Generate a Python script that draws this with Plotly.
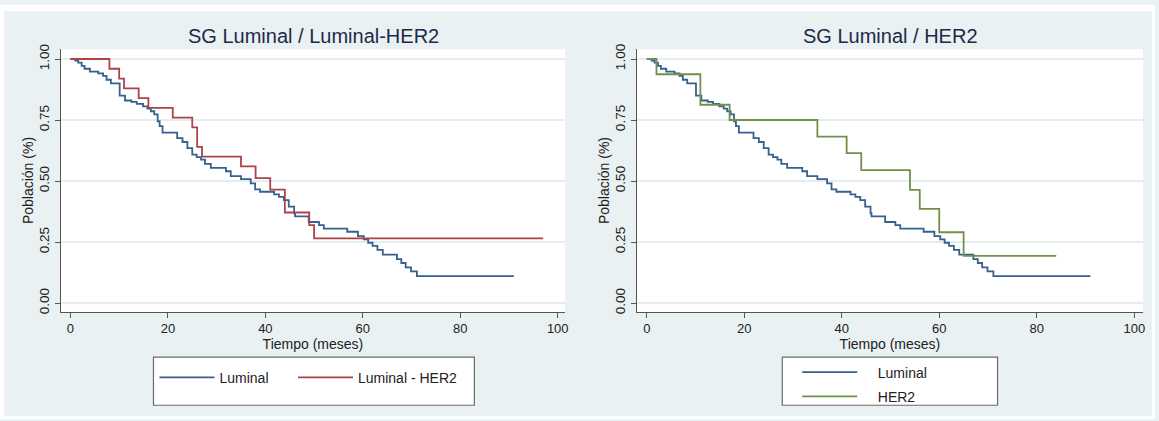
import plotly.graph_objects as go

W, H = 1159, 421

# ---- data ----
lum_t = [0, 1.0, 1.6, 2.3, 2.9, 4.0, 5.7, 6.7, 7.4, 8.3,
         10.1, 11.2, 12.5, 13.6, 14.9, 15.8, 16.5, 17.2, 17.9, 18.3,
         18.9, 21.9, 23.0, 24.0, 25.0, 25.9, 26.8, 27.6, 28.8, 31.9,
         32.9, 35.0, 37.0, 37.9, 38.9, 41.8, 42.8, 43.8, 44.8, 45.9,
         46.1, 48.9, 51.0, 52.0, 56.8, 59.0, 60.2, 61.1, 62.0, 63.0,
         64.1, 67.0, 67.9, 68.8, 69.9, 71.1, 91.0]
lum_s = [1.0, 0.993, 0.985, 0.972, 0.96, 0.948, 0.941, 0.931, 0.915, 0.90,
         0.85, 0.83, 0.824, 0.816, 0.806, 0.797, 0.786, 0.773, 0.745, 0.725,
         0.698, 0.676, 0.66, 0.635, 0.608, 0.598, 0.588, 0.570, 0.554, 0.540,
         0.520, 0.508, 0.49, 0.466, 0.456, 0.445, 0.435, 0.422, 0.395, 0.368,
         0.355, 0.332, 0.319, 0.305, 0.292, 0.274, 0.261, 0.247, 0.234, 0.218,
         0.198, 0.180, 0.164, 0.146, 0.130, 0.110, 0.110]

lumher2_t = [0, 8, 10, 11, 14, 16, 21, 25, 26, 27, 35, 38, 41, 44, 49, 50, 97]
lumher2_s = [1.0, 0.96, 0.92, 0.88, 0.84, 0.80, 0.76, 0.72, 0.64, 0.60,
             0.56, 0.512, 0.465, 0.371, 0.319, 0.265, 0.265]

her2_t = [0, 2, 11, 17, 35, 41, 44, 54, 56, 60, 65, 84]
her2_s = [1.0, 0.9375, 0.8125, 0.75, 0.682, 0.614, 0.545, 0.464, 0.386, 0.29, 0.193, 0.193]

x_ticks = [0, 20, 40, 60, 80, 100]
y_ticks = [0, 0.25, 0.5, 0.75, 1.0]
y_ticklabels = ["0.00", "0.25", "0.50", "0.75", "1.00"]

titles = ["SG Luminal / Luminal-HER2", "SG Luminal / HER2"]
names_left = ["Luminal", "Luminal - HER2"]
names_right = ["Luminal", "HER2"]
x_title = "Tiempo (meses)"
y_title = "Población (%)"

# ---- style ----
BLUE = "#36608e"
RED = "#ad4249"
GREEN = "#71904a"
BG = "#e9f1f2"
AX = "#555555"
TXT = "#222222"
FONT = "Liberation Sans, Arial, Helvetica, sans-serif"

def fx(p):
    return p / W

def fy(p):
    return 1 - p / H

fig = go.Figure()

fig.add_trace(go.Scatter(x=lum_t, y=lum_s, mode="lines", name=names_left[0],
                         line=dict(shape="hv", color=BLUE, width=1.8),
                         xaxis="x", yaxis="y", legend="legend"))
fig.add_trace(go.Scatter(x=lumher2_t, y=lumher2_s, mode="lines", name=names_left[1],
                         line=dict(shape="hv", color=RED, width=1.8),
                         xaxis="x", yaxis="y", legend="legend3"))
fig.add_trace(go.Scatter(x=lum_t, y=lum_s, mode="lines", name="\u00a0\u00a0\u00a0\u00a0" + names_right[0],
                         line=dict(shape="hv", color=BLUE, width=1.8), legendgroup="a",
                         xaxis="x2", yaxis="y2", legend="legend2"))
fig.add_trace(go.Scatter(x=her2_t, y=her2_s, mode="lines", name="\u00a0\u00a0\u00a0\u00a0" + names_right[1],
                         line=dict(shape="hv", color=GREEN, width=1.8), legendgroup="b",
                         xaxis="x2", yaxis="y2", legend="legend2"))

xcommon = dict(tickvals=x_ticks, ticks="outside", ticklen=5, tickcolor=AX,
               showline=True, linecolor=AX, linewidth=1, showgrid=False, zeroline=False,
               tickfont=dict(size=13, color=TXT),
               title=dict(text=x_title, font=dict(size=14, color=TXT), standoff=2))
ycommon = dict(tickvals=y_ticks, ticktext=y_ticklabels, tickangle=-90,
               ticks="outside", ticklen=5, tickcolor=AX,
               showline=True, linecolor=AX, linewidth=1,
               showgrid=True, gridcolor="#e4eef0", gridwidth=1.5, zeroline=False,
               tickfont=dict(size=13.5, color=TXT), range=[-0.036, 1.040],
               domain=[fy(312), fy(45)],
               title=dict(text=y_title, font=dict(size=14, color=TXT), standoff=0))

leg_common = dict(font=dict(size=14, color=TXT), bgcolor="rgba(0,0,0,0)", borderwidth=0,
                  itemwidth=55, yanchor="middle", xanchor="left")

fig.update_layout(
    width=W, height=H,
    margin=dict(l=0, r=0, t=0, b=0),
    paper_bgcolor=BG, plot_bgcolor="white",
    font=dict(family=FONT, color=TXT),
    xaxis=dict(domain=[fx(61), fx(567)], range=[-1.98, 101.5], anchor="y", **xcommon),
    yaxis=dict(anchor="x", **ycommon),
    xaxis2=dict(domain=[fx(639), fx(1147)], range=[-2.04, 101.8], anchor="y2", **xcommon),
    yaxis2=dict(anchor="x2", **ycommon),
    legend=dict(orientation="h", x=fx(155), y=fy(379), **leg_common),
    legend3=dict(orientation="h", x=fx(294), y=fy(379), **leg_common),
    legend2=dict(orientation="v", x=fx(800), y=fy(386), tracegroupgap=3, **leg_common),
    showlegend=True,
)

shapes = [
    # white border strips around the light panel
    dict(type="rect", xref="paper", yref="paper", x0=0, x1=1, y0=fy(6), y1=1,
         fillcolor="white", line=dict(width=0), layer="below"),
    dict(type="rect", xref="paper", yref="paper", x0=0, x1=1, y0=0, y1=fy(418),
         fillcolor="white", line=dict(width=0), layer="below"),
    dict(type="rect", xref="paper", yref="paper", x0=0, x1=fx(4), y0=0, y1=1,
         fillcolor="white", line=dict(width=0), layer="below"),
    dict(type="rect", xref="paper", yref="paper", x0=fx(1156), x1=1, y0=0, y1=1,
         fillcolor="white", line=dict(width=0), layer="below"),
    # legend boxes
    dict(type="rect", xref="paper", yref="paper", x0=fx(154), x1=fx(476), y0=fy(407), y1=fy(358),
         fillcolor="white", line=dict(color="#6b6b6b", width=1.2), layer="below"),
    dict(type="rect", xref="paper", yref="paper", x0=fx(785), x1=fx(1001), y0=fy(407), y1=fy(358),
         fillcolor="white", line=dict(color="#6b6b6b", width=1.2), layer="below"),
]
fig.update_layout(shapes=shapes)

fig.add_annotation(text=titles[0], x=fx(315), y=fy(32), xref="paper", yref="paper",
                   showarrow=False, font=dict(size=20, color="#1c2a48"),
                   xanchor="center", yanchor="middle")
fig.add_annotation(text=titles[1], x=fx(894), y=fy(32), xref="paper", yref="paper",
                   showarrow=False, font=dict(size=20, color="#1c2a48"),
                   xanchor="center", yanchor="middle")

fig.write_html("out.html")
